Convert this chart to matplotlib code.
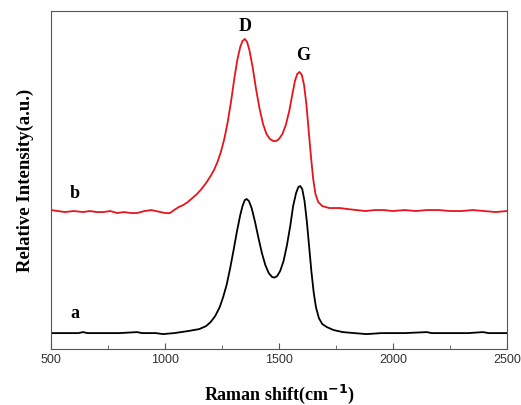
import matplotlib.pyplot as plt
from matplotlib.ticker import MultipleLocator

# datos (intensidad en unidades arbitrarias)
x_a = [500, 560, 620, 640, 660, 720, 800, 877, 900, 960, 991, 1040, 1070, 1100,
       1150, 1180, 1200, 1220, 1240, 1255, 1270, 1285, 1300, 1315, 1330, 1340,
       1350, 1358, 1368, 1380, 1395, 1410, 1425, 1440, 1455, 1470, 1480, 1492,
       1505, 1520, 1535, 1550, 1562, 1575, 1585, 1593, 1602, 1612, 1622, 1632,
       1642, 1652, 1662, 1675, 1690, 1710, 1740, 1780, 1830, 1885, 1950, 2050,
       2148, 2170, 2250, 2330, 2395, 2420, 2460, 2500]
y_a = [16, 16, 16, 17, 16, 16, 16, 17, 16, 16, 15, 16, 17, 18,
       20, 23, 27, 33, 42, 52, 64, 80, 98, 117, 134, 143,
       149, 150, 148, 141, 127, 111, 96, 84, 76, 72, 71.5, 73,
       78, 88, 104, 124, 143, 156, 162, 163, 160, 148, 128, 103,
       78, 57, 42, 31, 25, 22, 19, 17, 16, 15, 16, 16,
       17, 16, 16, 16, 17, 16, 16, 16]

x_b = [500, 530, 560, 600, 640, 670, 700, 730, 760, 790, 820, 850, 877, 910,
       940, 960, 980, 1000, 1022, 1040, 1060, 1080, 1100, 1120, 1140, 1160, 1180,
       1200, 1215, 1230, 1245, 1260, 1275, 1290, 1305, 1318, 1330, 1340, 1350,
       1360, 1370, 1385, 1400, 1415, 1430, 1445, 1460, 1475, 1488, 1500, 1515,
       1530, 1545, 1558, 1570, 1580, 1590, 1600, 1610, 1620, 1630, 1640, 1650,
       1660, 1672, 1690, 1720, 1768, 1800, 1840, 1880, 1920, 1960, 2000, 2050,
       2100, 2150, 2200, 2250, 2300, 2350, 2400, 2450, 2500]
y_b = [139, 138, 137, 138, 137, 138, 137, 137, 138, 136, 137, 136, 136, 138,
       139, 138, 137, 136, 136, 139, 142, 144, 147, 151, 155, 160, 166,
       173, 179, 187, 197, 210, 227, 248, 272, 290, 302, 308, 310,
       307, 299, 281, 259, 240, 225, 215, 210, 208, 208, 210, 215,
       224, 238, 254, 268, 275, 277, 274, 264, 245, 219, 193, 170,
       155, 147, 143, 141, 141, 140, 139, 138, 139, 139, 138, 139,
       138, 139, 139, 138, 138, 139, 138, 137, 138]

fig = plt.figure(figsize=(5.21, 4.05), dpi=100)
ax = fig.add_axes([0.098, 0.138, 0.875, 0.835])

ax.plot(x_a, y_a, color='black', lw=1.3)
ax.plot(x_b, y_b, color='#e8141c', lw=1.3)

ax.set_xlim(500, 2500)
ax.set_ylim(0, 338)

serif = ['Liberation Serif', 'DejaVu Serif']
ax.text(1350, 322, 'D', fontsize=13, fontweight='bold', family=serif, ha='center', va='center')
ax.text(1607, 293, 'G', fontsize=13, fontweight='bold', family=serif, ha='center', va='center')
ax.text(605, 156, 'b', fontsize=13, fontweight='bold', family=serif, ha='center', va='center')
ax.text(605, 36, 'a', fontsize=13, fontweight='bold', family=serif, ha='center', va='center')

ax.set_xlabel('Raman shift(cm$^{\\mathbf{-1}}$)', fontsize=13, fontweight='bold', family=serif, labelpad=12)
ax.set_ylabel('Relative Intensity(a.u.)', fontsize=13.5, fontweight='bold', family=serif, labelpad=12)

ax.xaxis.set_major_locator(MultipleLocator(500))
ax.xaxis.set_minor_locator(MultipleLocator(250))
ax.tick_params(axis='x', which='both', direction='in', labelsize=9, colors='#555555', labelcolor='#333333')
ax.tick_params(axis='x', which='major', length=4)
ax.tick_params(axis='x', which='minor', length=3)
ax.tick_params(axis='y', left=False, labelleft=False)
for lab in ax.get_xticklabels():
    lab.set_family(['Liberation Sans', 'DejaVu Sans'])
for s in ax.spines.values():
    s.set_color('#555555')

fig.savefig('out.png', dpi=100)
